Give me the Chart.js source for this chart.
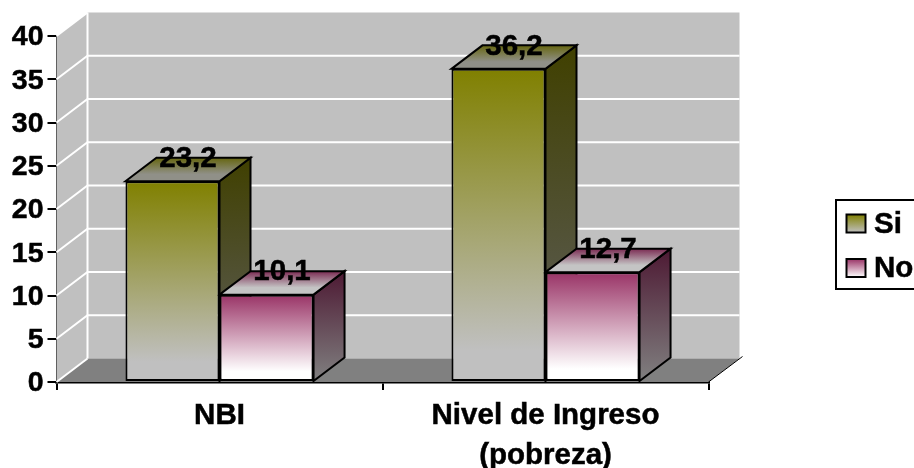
<!DOCTYPE html>
<html lang="es">
<head>
<meta charset="utf-8">
<title>NBI y Nivel de Ingreso</title>
<script src="https://cdn.jsdelivr.net/npm/chart.js@4/dist/chart.umd.min.js"></script>
<style>
  html, body { margin: 0; padding: 0; background: #fff; overflow: hidden; }
  canvas { display: block; }
</style>
</head>
<body>
<canvas id="chart" width="914" height="468"></canvas>
<script>
// Series and categories
const categories = ["NBI", ["Nivel de Ingreso", "(pobreza)"]];
const siValues = [23.2, 36.2];
const noValues = [10.1, 12.7];
const seriesNames = ["Si", "No"];
const yTickMax = 40;
const yTickStep = 5;

// Box depth of the pseudo-3D projection
const DEPTH_X = 31;
const DEPTH_Y = 23.5;
const FONT = 'bold 29.5px "Liberation Sans", Arial, sans-serif';

// Face colours for each series
const palette = [
  { frontTop: "#808000", frontBottom: "#C0C0C0", sideTop: "#404000", sideBottom: "#606060",
    capBack: "#666610", capFront: "#909088", fade: 0.9 },
  { frontTop: "#993366", frontBottom: "#FFFFFF", sideTop: "#4D1933", sideBottom: "#808080",
    capBack: "#7a2a52", capFront: "#C4C4C4", fade: 0.88 }
];

function vGradient(ctx, y0, y1, c0, c1, stop) {
  const g = ctx.createLinearGradient(0, y0, 0, y1);
  g.addColorStop(0, c0);
  g.addColorStop(stop === undefined ? 1 : stop, c1);
  g.addColorStop(1, c1);
  return g;
}

function fillPath(ctx, pts, fill, stroke, lineWidth) {
  ctx.beginPath();
  pts.forEach((p, i) => (i ? ctx.lineTo(p[0], p[1]) : ctx.moveTo(p[0], p[1])));
  ctx.closePath();
  if (fill) { ctx.fillStyle = fill; ctx.fill(); }
  if (stroke) { ctx.strokeStyle = stroke; ctx.lineWidth = lineWidth; ctx.stroke(); }
}

function heavyText(ctx, text, x, y) {
  ctx.fillText(text, x, y);
  ctx.strokeText(text, x, y);
}

// Walls, floor and the side and top faces of each bar, painted behind the bar fronts
const boxBackdrop = {
  id: "boxBackdrop",
  beforeDatasetsDraw(chart) {
    const { ctx, chartArea: a, scales: { y } } = chart;
    const L = a.left, R = a.right, T = a.top, B = a.bottom;
    ctx.save();
    fillPath(ctx, [[L, T], [L + DEPTH_X, T - DEPTH_Y], [R + DEPTH_X, T - DEPTH_Y],
                   [R + DEPTH_X, B - DEPTH_Y], [L + DEPTH_X, B - DEPTH_Y], [L, B]], "#C0C0C0");
    fillPath(ctx, [[L, B], [L + DEPTH_X, B - DEPTH_Y], [R + DEPTH_X, B - DEPTH_Y], [R, B]], "#808080");

    ctx.strokeStyle = "#FFFFFF";
    ctx.lineWidth = 2;
    y.ticks.forEach(t => {
      const py = y.getPixelForValue(t.value);
      ctx.beginPath();
      ctx.moveTo(L, py);
      ctx.lineTo(L + DEPTH_X, py - DEPTH_Y);
      if (t.value > 0 && t.value < yTickMax) ctx.lineTo(R + DEPTH_X, py - DEPTH_Y);
      ctx.stroke();
    });
    ctx.beginPath();
    ctx.moveTo(L + DEPTH_X, T - DEPTH_Y);
    ctx.lineTo(L + DEPTH_X, B - DEPTH_Y);
    ctx.stroke();

    ctx.strokeStyle = "#000";
    ctx.lineWidth = 1;
    ctx.beginPath();
    ctx.moveTo(R, B);
    ctx.lineTo(R + DEPTH_X + 3, B - DEPTH_Y - 2);
    ctx.stroke();

    ctx.lineJoin = "miter";
    chart.data.datasets.forEach((ds, i) => {
      const c = palette[i];
      chart.getDatasetMeta(i).data.forEach(bar => {
        const l = bar.x - bar.width / 2, r = bar.x + bar.width / 2;
        const top = bar.y, base = bar.base;
        fillPath(ctx, [[r, top], [r + DEPTH_X, top - DEPTH_Y], [r + DEPTH_X, base - DEPTH_Y], [r, base]],
          vGradient(ctx, top - DEPTH_Y, base, c.sideTop, c.sideBottom), "#000", 2);
        fillPath(ctx, [[l, top], [l + DEPTH_X, top - DEPTH_Y], [r + DEPTH_X, top - DEPTH_Y], [r, top]],
          vGradient(ctx, top - DEPTH_Y, top, c.capBack, c.capFront, 0.7), "#000", 2);
      });
    });
    ctx.restore();
  }
};

// Value labels over the bars, then the framed legend to the right
const overlay = {
  id: "overlay",
  afterDatasetsDraw(chart) {
    const { ctx } = chart;
    ctx.save();
    ctx.font = FONT;
    ctx.fillStyle = "#000";
    ctx.strokeStyle = "#000";
    ctx.lineWidth = 0.5;
    ctx.textAlign = "center";
    ctx.textBaseline = "middle";
    chart.data.datasets.forEach((ds, i) => {
      chart.getDatasetMeta(i).data.forEach((bar, j) => {
        const text = ds.data[j].toFixed(1).replace(".", ",");
        heavyText(ctx, text, bar.x + DEPTH_X / 2, bar.y - DEPTH_Y + 1);
      });
    });

    ctx.lineWidth = 2;
    ctx.strokeRect(836, 200, 90, 89);
    ctx.textAlign = "left";
    chart.data.datasets.forEach((ds, i) => {
      const c = palette[i];
      const top = 214.5 + i * 44.5;
      ctx.fillStyle = vGradient(ctx, top, top + 18, c.frontTop, c.frontBottom);
      ctx.fillRect(846.5, top, 19, 18);
      ctx.lineWidth = 2;
      ctx.strokeRect(846.5, top, 19, 18);
      ctx.fillStyle = "#000";
      ctx.lineWidth = 0.5;
      heavyText(ctx, ds.label, 874, top + 10);
    });
    ctx.restore();
  }
};

function frontFace(i) {
  return context => {
    const c = palette[i];
    const y = context.chart.scales.y;
    if (context.raw === undefined || !y) return c.frontTop;
    const y0 = y.getPixelForValue(context.raw), y1 = y.getPixelForValue(0);
    if (!Number.isFinite(y0) || !Number.isFinite(y1)) return c.frontTop;
    return vGradient(context.chart.ctx, y0, y1, c.frontTop, c.frontBottom, c.fade);
  };
}

Chart.defaults.font.family = '"Liberation Sans", Arial, sans-serif';

new Chart(document.getElementById("chart"), {
  type: "bar",
  plugins: [boxBackdrop, overlay],
  data: {
    labels: categories,
    datasets: [
      { label: seriesNames[0], data: siValues, backgroundColor: frontFace(0) },
      { label: seriesNames[1], data: noValues, backgroundColor: frontFace(1) }
    ]
  },
  options: {
    responsive: false,
    animation: false,
    devicePixelRatio: 1,
    layout: { padding: { left: 0, top: 36, right: 205.5, bottom: 0 } },
    datasets: {
      bar: {
        categoryPercentage: 0.577,
        barPercentage: 1,
        borderColor: "#000",
        borderWidth: 2,
        borderSkipped: false
      }
    },
    plugins: { legend: { display: false }, tooltip: { enabled: false }, title: { display: false } },
    scales: {
      x: {
        z: 1,
        afterFit(scale) { scale.height = 86; },
        border: { color: "#000", width: 2.5 },
        grid: { drawOnChartArea: false, color: "#000", lineWidth: 2, tickLength: 8 },
        ticks: { color: "#000", font: { size: 29.5, weight: "bold", lineHeight: 1.356 }, padding: 6, maxRotation: 0, autoSkip: false,
                 textStrokeColor: "#000", textStrokeWidth: 0.5 }
      },
      y: {
        min: 0,
        max: yTickMax,
        afterFit(scale) { scale.width = 56.5; },
        border: { color: "#000", width: 2 },
        grid: { drawOnChartArea: false, color: "#000", lineWidth: 2, tickLength: 9 },
        ticks: { stepSize: yTickStep, color: "#000", font: { size: 28.5, weight: "bold" }, padding: 4, labelOffset: 1.5,
                 textStrokeColor: "#000", textStrokeWidth: 0.5 }
      }
    }
  }
});
</script>
</body>
</html>
